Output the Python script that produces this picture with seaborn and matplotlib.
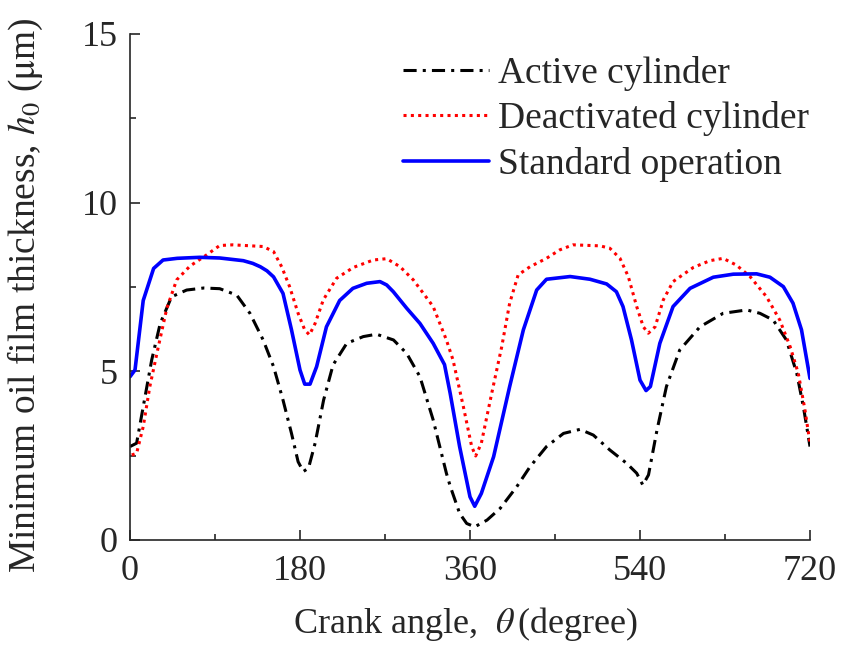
import matplotlib
matplotlib.use("Agg")
import matplotlib.pyplot as plt
from matplotlib.ticker import MultipleLocator
import seaborn as sns
import pandas as pd

# Crank angle samples (degree) and minimum oil film thickness (um) per case
active_theta = [0, 7, 14, 23, 32, 44, 60, 78, 95, 113, 127, 141, 152, 162, 171, 178, 183.5,
                189, 196, 205, 215, 229.5, 247, 261, 279, 293, 307, 321, 335, 339, 349, 356.5,
                365, 378, 392, 409.5, 423.5, 441, 459, 476.5, 490.6, 508, 526, 536.5, 543,
                549, 558, 568, 582, 603.5, 628, 653, 667, 681, 695, 706, 713, 720]
active_h = [2.77, 2.87, 3.95, 5.34, 6.42, 7.21, 7.41, 7.47, 7.45, 7.26, 6.72, 5.93, 5.14, 4.15,
            3.16, 2.32, 2.03, 2.13, 2.87, 4.15, 5.19, 5.83, 6.03, 6.10, 5.93, 5.53, 4.84, 3.56,
            1.98, 1.60, 0.79, 0.49, 0.39, 0.59, 0.94, 1.58, 2.17, 2.77, 3.16, 3.28, 3.11, 2.67,
            2.27, 1.98, 1.63, 1.93, 3.26, 4.55, 5.63, 6.32, 6.72, 6.82, 6.72, 6.52, 5.93, 4.94,
            3.95, 2.77]

deact_theta = [1.8, 7, 14, 21, 30, 39, 49.4, 63.5, 81, 95, 109, 141, 152, 160.6, 169, 178, 185,
               190, 196, 204.7, 218.8, 236.5, 257.6, 271.8, 286, 300, 321, 335, 342, 353, 361.8,
               366, 372, 383, 393.6, 402, 411, 423.5, 441, 455, 469, 497.6, 508, 518.8, 527.6,
               536.5, 543.5, 548.8, 556, 564.7, 575, 596.5, 614, 628, 642, 656.5, 674, 688, 699,
               707.6, 714.7, 720]
deact_h = [2.52, 2.57, 3.36, 4.55, 5.73, 6.87, 7.71, 8.12, 8.45, 8.73, 8.75, 8.70, 8.55, 8.10,
           7.51, 6.72, 6.23, 6.08, 6.42, 7.12, 7.76, 8.08, 8.30, 8.34, 8.10, 7.71, 6.92, 5.93,
           5.34, 3.95, 2.77, 2.49, 2.87, 4.35, 5.73, 7.02, 7.86, 8.10, 8.35, 8.60, 8.75, 8.72,
           8.65, 8.35, 7.81, 6.92, 6.32, 6.13, 6.32, 7.12, 7.66, 8.08, 8.28, 8.35, 8.15, 7.81,
           7.21, 6.52, 5.73, 4.94, 3.85, 2.87]

std_theta = [0, 5.3, 14, 25, 35, 50, 74, 95, 120, 130, 138, 145, 152, 162, 171, 180, 185, 190.6,
             197.6, 208, 222, 236, 250.6, 264.7, 271.8, 278.8, 293, 307, 321, 333, 339, 349,
             360, 365, 372, 385, 402, 416.5, 430.6, 441, 466, 487, 504.7, 515, 522, 531, 540,
             546.4, 551, 561, 575, 593, 617.6, 638.8, 663.5, 677.6, 691.8, 702, 711, 720]
std_h = [4.84, 5.04, 7.10, 8.05, 8.30, 8.35, 8.38, 8.36, 8.28, 8.20, 8.10, 7.98, 7.80, 7.31,
         6.23, 5.04, 4.62, 4.62, 5.14, 6.32, 7.10, 7.46, 7.61, 7.66, 7.56, 7.36, 6.87, 6.42,
         5.83, 5.20, 4.35, 2.77, 1.28, 1.00, 1.38, 2.47, 4.55, 6.23, 7.41, 7.73, 7.81, 7.73,
         7.59, 7.36, 6.92, 5.93, 4.74, 4.43, 4.55, 5.83, 6.92, 7.46, 7.79, 7.88, 7.89, 7.79,
         7.51, 7.02, 6.23, 4.79]

labels = ["Active cylinder", "Deactivated cylinder", "Standard operation"]
x_ticks = [0, 180, 360, 540, 720]
y_ticks = [0, 5, 10, 15]

sns.set_style("ticks")
plt.rcParams["font.family"] = ["Liberation Serif", "DejaVu Serif"]
plt.rcParams["mathtext.fontset"] = "stix"

fig = plt.figure(figsize=(8.44, 6.46), dpi=100)
ax = fig.add_axes([130 / 844, 106 / 646, 680 / 844, 506 / 646])

frames = [
    pd.DataFrame({"theta": active_theta, "h": active_h}),
    pd.DataFrame({"theta": deact_theta, "h": deact_h}),
    pd.DataFrame({"theta": std_theta, "h": std_h}),
]
styles = [
    dict(color="black", lw=2.2, linestyle=(0, (4.3, 2.0, 1, 2.0))),
    dict(color="#ff0000", lw=2.2, linestyle=(0, (1, 1.4))),
    dict(color="#0000ff", lw=2.6, linestyle="-"),
]
for df, lab, st in zip(frames, labels, styles):
    sns.lineplot(data=df, x="theta", y="h", ax=ax, label=lab, sort=False,
                 estimator=None, **st)

ax.set_xlim(0, 720)
ax.set_ylim(0, 15)
ax.set_xticks(x_ticks)
ax.set_yticks(y_ticks)
ax.xaxis.set_minor_locator(MultipleLocator(90))
ax.yaxis.set_minor_locator(MultipleLocator(2.5))
ax.tick_params(which="major", direction="in", length=7.5, width=1.2, labelsize=26)
ax.tick_params(axis="x", which="major", pad=11)
ax.tick_params(axis="y", which="major", pad=9)
ax.tick_params(which="minor", direction="in", length=4, width=1.2)
for side in ("top", "right"):
    ax.spines[side].set_visible(False)
for side in ("left", "bottom"):
    ax.spines[side].set_linewidth(1.2)
ax.margins(0)

ax.set_xlabel(r"Crank angle,  $\theta\,$(degree)", fontsize=26)
ax.set_ylabel(r"Minimum oil film thickness, $h_{0}$ ($\mathrm{\mu}$m)", fontsize=27)
ax.xaxis.set_label_coords(0.493, -0.128)
ax.yaxis.set_label_coords(-0.125, 0.484)

leg = ax.legend(loc="upper right", bbox_to_anchor=(0.998, 0.957), frameon=False,
                fontsize=27, handlelength=2.3, handletextpad=0.22,
                labelspacing=0.28, borderaxespad=0, borderpad=0)

fig.savefig("out.png", dpi=100)
